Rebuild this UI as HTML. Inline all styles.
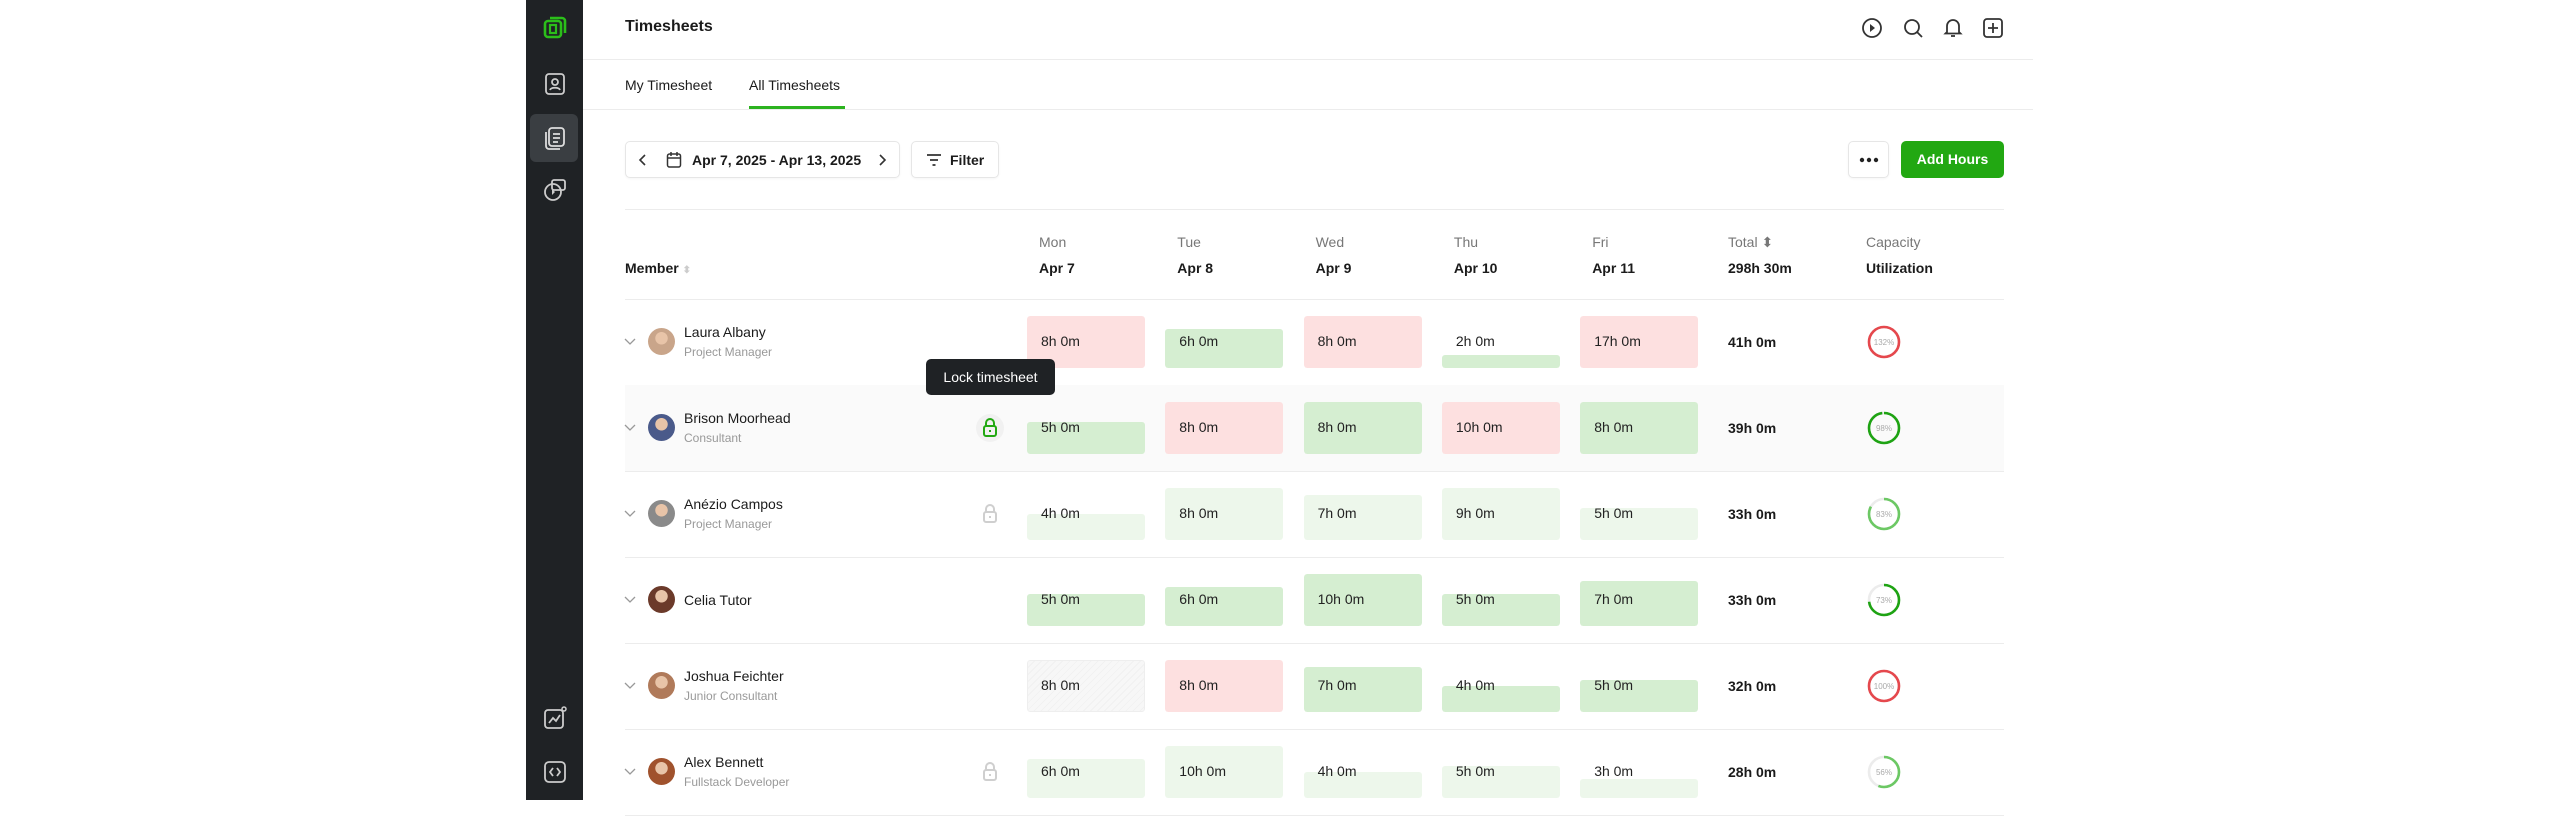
<!DOCTYPE html>
<html><head><meta charset="utf-8">
<style>
*{box-sizing:border-box;margin:0;padding:0}
body{width:2560px;height:800px;background:#fff;font-family:"Liberation Sans",sans-serif;color:#1b1b1b;position:relative;overflow:hidden}
.abs{position:absolute}
.side{left:526px;top:0;width:57px;height:800px;background:#1f2225}
.sicon{position:absolute;left:16px;width:26px;height:26px}
.btn{position:absolute;border:1px solid #e6e6e6;border-radius:5px;background:#fff;box-shadow:0 1px 2px rgba(0,0,0,.04)}
.hl{position:absolute;height:1px;background:#ececec}
.hd1{position:absolute;top:234px;font-size:14px;color:#777}
.hd2{position:absolute;top:260px;font-size:14px;font-weight:bold}
.cell{position:absolute;width:118px;height:52px;border-radius:3px;overflow:hidden}
.cell .fill{position:absolute;left:0;right:0;bottom:0;border-radius:3px}
.cell span{position:absolute;left:14px;top:17px;font-size:14px;color:#222}
</style></head>
<body>
<div class="abs side">
  <svg class="sicon" style="top:14px" viewBox="0 0 26 26"><path d="M8 4h12a3 3 0 0 1 3 3v12" fill="none" stroke="#2bbf1a" stroke-width="2.6"/><rect x="3" y="7" width="16" height="16" rx="3" fill="none" stroke="#2bbf1a" stroke-width="2.6"/><rect x="8" y="11" width="6" height="8" fill="none" stroke="#2bbf1a" stroke-width="2.2"/></svg>
  <svg class="sicon" style="top:71px" viewBox="0 0 26 26"><rect x="4" y="3" width="18" height="20" rx="3" fill="none" stroke="#ccc" stroke-width="1.8"/><circle cx="13" cy="11" r="3" fill="none" stroke="#ccc" stroke-width="1.8"/><path d="M8 19c1-3 9-3 10 0" fill="none" stroke="#ccc" stroke-width="1.8"/></svg>
  <div class="abs" style="left:4px;top:114px;width:48px;height:48px;background:#3a3e42;border-radius:6px"></div>
  <svg class="sicon" style="top:125px" viewBox="0 0 26 26"><rect x="7" y="3" width="15" height="18" rx="3" fill="none" stroke="#ddd" stroke-width="1.8"/><path d="M4 7v14a3 3 0 0 0 3 3h11" fill="none" stroke="#ddd" stroke-width="1.8"/><path d="M11 9h7M11 13h7M11 17h5" stroke="#ddd" stroke-width="1.8"/></svg>
  <svg class="sicon" style="top:177px" viewBox="0 0 26 26"><circle cx="11" cy="15" r="8" fill="none" stroke="#ccc" stroke-width="1.8"/><rect x="10" y="3" width="13" height="10" rx="2" fill="none" stroke="#ccc" stroke-width="1.8"/><path d="M10 12l3 3-3 3z" fill="#ccc"/></svg>
  <svg class="sicon" style="top:705px" viewBox="0 0 26 26"><rect x="3" y="5" width="18" height="18" rx="3" fill="none" stroke="#ccc" stroke-width="1.8"/><path d="M7 18l4-5 3 3 4-6" fill="none" stroke="#ccc" stroke-width="1.8"/><circle cx="22" cy="4" r="2" fill="none" stroke="#ccc" stroke-width="1.5"/></svg>
  <svg class="sicon" style="top:759px" viewBox="0 0 26 26"><rect x="3" y="3" width="20" height="20" rx="4" fill="none" stroke="#ccc" stroke-width="1.8"/><path d="M11 9l-3 4 3 4M15 9l3 4-3 4" fill="none" stroke="#ccc" stroke-width="1.8"/></svg>
</div>

<div class="abs" style="left:625px;top:18px;font-size:16px;font-weight:bold">Timesheets</div>
<svg class="abs" style="left:1861px;top:17px" width="22" height="22" viewBox="0 0 22 22"><circle cx="11" cy="11" r="9" fill="none" stroke="#333" stroke-width="1.8"/><path d="M9 7l5 4-5 4z" fill="#333"/></svg>
<svg class="abs" style="left:1902px;top:17px" width="22" height="22" viewBox="0 0 22 22"><circle cx="10" cy="10" r="7" fill="none" stroke="#333" stroke-width="1.8"/><path d="M15 15l5 5" stroke="#333" stroke-width="1.8"/></svg>
<svg class="abs" style="left:1942px;top:16px" width="22" height="22" viewBox="0 0 22 22"><path d="M5 16V10a6 6 0 0 1 12 0v6l1.5 1.5h-15z" fill="none" stroke="#333" stroke-width="1.8"/><path d="M9 20h4" stroke="#333" stroke-width="1.8"/></svg>
<svg class="abs" style="left:1982px;top:17px" width="22" height="22" viewBox="0 0 22 22"><rect x="2" y="2" width="18" height="18" rx="3" fill="none" stroke="#333" stroke-width="1.8"/><path d="M11 6v10M6 11h10" stroke="#333" stroke-width="1.8"/></svg>
<div class="hl" style="left:583px;width:1450px;top:59px"></div>

<div class="abs" style="left:625px;top:77px;font-size:14px">My Timesheet</div>
<div class="abs" style="left:749px;top:77px;font-size:14px">All Timesheets</div>
<div class="abs" style="left:749px;top:106px;width:96px;height:3px;background:#2cb31f"></div>
<div class="hl" style="left:583px;width:1450px;top:109px"></div>

<div class="btn" style="left:625px;top:141px;width:275px;height:37px">
  <svg class="abs" style="left:12px;top:12px" width="10" height="12" viewBox="0 0 10 12"><path d="M7 1L2 6l5 5" fill="none" stroke="#333" stroke-width="1.6"/></svg>
  <svg class="abs" style="left:40px;top:9px" width="16" height="18" viewBox="0 0 16 18"><rect x="1.5" y="3" width="13" height="13" rx="2" fill="none" stroke="#333" stroke-width="1.5"/><path d="M1.5 7h13M5 1v4M11 1v4" stroke="#333" stroke-width="1.5"/></svg>
  <div class="abs" style="left:66px;top:10px;font-size:14px;font-weight:bold">Apr 7, 2025 - Apr 13, 2025</div>
  <svg class="abs" style="left:251px;top:12px" width="10" height="12" viewBox="0 0 10 12"><path d="M3 1l5 5-5 5" fill="none" stroke="#333" stroke-width="1.6"/></svg>
</div>
<div class="btn" style="left:911px;top:141px;width:88px;height:37px">
  <svg class="abs" style="left:14px;top:11px" width="16" height="14" viewBox="0 0 16 14"><path d="M1 2h14M4 7h8M6.5 12h3" stroke="#333" stroke-width="1.7"/></svg>
  <div class="abs" style="left:38px;top:10px;font-size:14px;font-weight:bold">Filter</div>
</div>
<div class="btn" style="left:1848px;top:141px;width:41px;height:37px">
  <svg class="abs" style="left:10px;top:15px" width="20" height="6" viewBox="0 0 20 6"><circle cx="3" cy="3" r="2.2" fill="#222"/><circle cx="10" cy="3" r="2.2" fill="#222"/><circle cx="17" cy="3" r="2.2" fill="#222"/></svg>
</div>
<div class="abs" style="left:1901px;top:141px;width:103px;height:37px;background:#22a812;border-radius:5px;color:#fff;font-size:14px;font-weight:bold;text-align:center;line-height:37px">Add Hours</div>

<div class="hl" style="left:625px;width:1379px;top:209px"></div>
<div class="abs" style="left:625px;top:260px;font-size:14px;font-weight:bold">Member <span style="color:#ccc;font-size:10px">⬍</span></div>
<div id="hdrs"></div>
<div class="hl" style="left:625px;width:1379px;top:299px"></div>
<div id="rows"></div>

<div class="abs" style="left:926px;top:359px;width:129px;height:36px;background:#1f2225;border-radius:5px;color:#fff;font-size:14px;text-align:center;line-height:36px;z-index:5">Lock timesheet</div>

<script>
const days = ["Mon","Tue","Wed","Thu","Fri"];
const dates = ["Apr 7","Apr 8","Apr 9","Apr 10","Apr 11"];
const totalHeader = "298h 30m";
const members = ["Laura Albany","Brison Moorhead","Anézio Campos","Celia Tutor","Joshua Feichter","Alex Bennett"];
const roles = ["Project Manager","Consultant","Project Manager","","Junior Consultant","Fullstack Developer"];
const hours = [[8,6,8,2,17],[5,8,8,10,8],[4,8,7,9,5],[5,6,10,5,7],[8,8,7,4,5],[6,10,4,5,3]];
const status = [["r","g","r","g","r"],["g","r","g","r","g"],["l","l","l","l","l"],["g","g","g","g","g"],["x","r","g","g","g"],["l","l","l","l","l"]];
const totals = [41,39,33,33,32,28];
const utilization = [132,98,83,73,100,56];
const ringKind = ["r","g","l","g","r","l"];
const lockState = ["none","active","grey","none","none","grey"];
const avatarColors = ["#c9a58a","#4a5a8a","#8a8a8a","#6b3a2a","#b07a5a","#a0522d"];

const colX = d => 1027 + d * 138.3;
const rowTop = i => 299 + i * 86;
const fullH = 52;
const fillH = h => Math.min(h / 8, 1) * fullH;
const fillColor = {r:"#fde0e0",g:"#d5eed1",l:"#edf7eb",x:"#f6f6f6"};
const ringColor = {r:"#e5484d",g:"#1ea313",l:"#6cc864"};

const hdrs = document.getElementById('hdrs');
const cols = days.concat(["Total","Capacity"]);
const sub = dates.concat([totalHeader,"Utilization"]);
cols.forEach((c,i)=>{
  const x = i < 5 ? colX(i) + 12 : (i===5 ? 1728 : 1866);
  const a = document.createElement('div');
  a.className='hd1'; a.style.left=x+'px'; a.textContent=c + (c==="Total"?" ⬍":"");
  
  
  hdrs.appendChild(a);
  const b = document.createElement('div');
  b.className='hd2'; b.style.left=x+'px'; b.textContent=sub[i];
  
  
  hdrs.appendChild(b);
});

const rows = document.getElementById('rows');
members.forEach((m,i)=>{
  const top = rowTop(i), cy = top + 43;
  const row = document.createElement('div');
  row.className='abs';
  row.style.cssText=`left:625px;top:${top}px;width:1379px;height:86px;${lockState[i]==="active"?"background:#fafafa;":""}`;
  
  
  rows.appendChild(row);
  const line = document.createElement('div');
  line.className='hl'; line.style.cssText=`left:625px;width:1379px;top:${top+86}px`;
  
  
  rows.appendChild(line);

  const chev = document.createElementNS('http://www.w3.org/2000/svg','svg');
  chev.setAttribute('class','abs'); chev.setAttribute('width','12'); chev.setAttribute('height','8'); chev.setAttribute('viewBox','0 0 12 8');
  chev.style.left='624px'; chev.style.top=(cy-4)+'px';
  chev.innerHTML='<path d="M1 1l5 5 5-5" fill="none" stroke="#999" stroke-width="1.3"/>';
  
  
  rows.appendChild(chev);

  const av = document.createElement('div');
  av.className='abs'; av.style.cssText=`left:648px;top:${cy-14}px;width:27px;height:27px;border-radius:50%;background:radial-gradient(circle at 50% 38%, #e8c4a8 0 28%, ${avatarColors[i]} 30%)`;
  
  
  rows.appendChild(av);

  const nm = document.createElement('div');
  nm.className='abs'; nm.style.cssText=`left:684px;top:${roles[i]?cy-18:cy-8}px;font-size:14px;color:#1b1b1b`;
  nm.textContent=m;
  
  
  rows.appendChild(nm);
  if(roles[i]){
    const rl = document.createElement('div');
    rl.className='abs'; rl.style.cssText=`left:684px;top:${cy+3}px;font-size:12px;color:#999`;
    rl.textContent=roles[i];
    
    
    rows.appendChild(rl);
  }
  if(lockState[i]!=="none"){
    const col = lockState[i]==="active" ? "#22a812" : "#cfcfcf";
    const lk = document.createElementNS('http://www.w3.org/2000/svg','svg');
    lk.setAttribute('class','abs'); lk.setAttribute('width','30'); lk.setAttribute('height','30'); lk.setAttribute('viewBox','0 0 30 30');
    lk.style.left='975px'; lk.style.top=(cy-15)+'px';
    lk.innerHTML=(lockState[i]==="active"?'<circle cx="15" cy="15" r="14" fill="#f1f1f1"/>':'')+`<rect x="9" y="13" width="12" height="10" rx="2" fill="none" stroke="${col}" stroke-width="2"/><path d="M11 13v-3a4 4 0 0 1 8 0v3" fill="none" stroke="${col}" stroke-width="2"/><path d="M15 17v2" stroke="${col}" stroke-width="2"/>`;
    
    
    rows.appendChild(lk);
  }
  hours[i].forEach((h,d)=>{
    const s = status[i][d];
    const c = document.createElement('div');
    c.className='cell'; c.style.left=colX(d)+'px'; c.style.top=(cy-26)+'px';
    
    
    const f = document.createElement('div');
    f.className='fill';
    const fh = (s==="r"||s==="x") ? fullH : fillH(h);
    f.style.height=fh+'px';
    f.style.background = s==="x" ? "repeating-linear-gradient(135deg,#f7f7f7 0 4px,#f1f1f1 4px 5px)" : fillColor[s];
    if(s==="x") f.style.border="1px solid #eee";
    
    
    c.appendChild(f);
    const t = document.createElement('span');
    t.textContent = h+'h 0m';
    c.appendChild(t);
    rows.appendChild(c);
  });
  const tt = document.createElement('div');
  tt.className='abs'; tt.style.cssText=`left:1728px;top:${cy-8}px;font-size:14px;font-weight:bold`;
  tt.textContent = totals[i]+'h 0m';
  
  
  rows.appendChild(tt);

  const u = utilization[i], r = 15, C = 2*Math.PI*r;
  const frac = Math.min(u,100)/100;
  const rg = document.createElementNS('http://www.w3.org/2000/svg','svg');
  rg.setAttribute('class','abs'); rg.setAttribute('width','38'); rg.setAttribute('height','38'); rg.setAttribute('viewBox','0 0 38 38');
  rg.style.left='1865px'; rg.style.top=(cy-19)+'px';
  rg.innerHTML=`<circle cx="19" cy="19" r="${r}" fill="none" stroke="#ececec" stroke-width="2.6"/><circle cx="19" cy="19" r="${r}" fill="none" stroke="${ringColor[ringKind[i]]}" stroke-width="2.6" stroke-dasharray="${frac*C} ${C}" transform="rotate(-90 19 19)"/><text x="19" y="22" text-anchor="middle" font-size="8" fill="#aaa" font-family="Liberation Sans, sans-serif">${u}%</text>`;
  
  
  rows.appendChild(rg);
});
</script>
</body></html>
